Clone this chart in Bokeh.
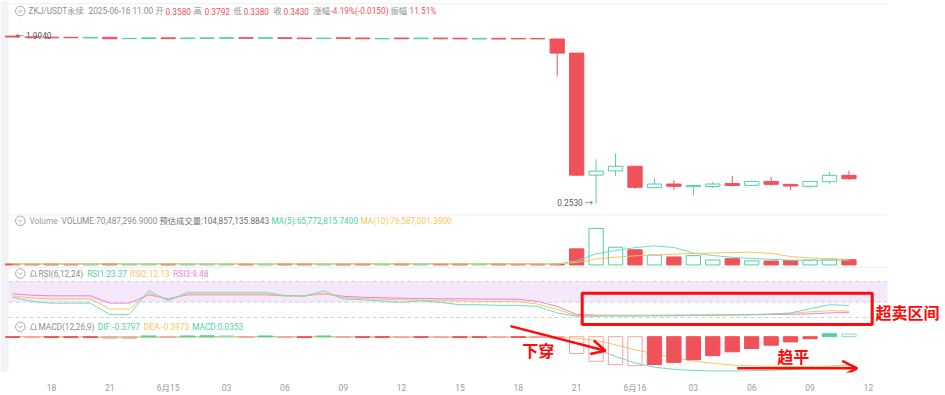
import numpy as np
import pandas as pd
from bokeh.plotting import figure
from bokeh.models import (Range1d, LinearScale, LogScale, FixedTicker, Arrow,
                          OpenHead, ColumnDataSource)
from bokeh.core.properties import value
from bokeh.embed import file_html
from bokeh.resources import INLINE

# ---------------- data ----------------
symbol = "ZKJ/USDT永续"
last_time = "2025-06-16 11:00"
est_volume = 104857135.8843

# candle index 0 = 2025-06-14 16:00, hourly
tick_idx = [2, 5, 8, 11, 14, 17, 20, 23, 26, 29, 32, 35, 38, 41, 44]
tick_labels = ["18", "21", "6月15", "03", "06", "09", "12", "15", "18", "21",
               "6月16", "03", "06", "09", "12"]

opens = [1.992, 1.972, 1.965, 1.962, 1.948, 1.962, 1.930, 1.932, 1.950, 1.930,
         1.935, 1.940, 1.954, 1.938, 1.952, 1.945, 1.930, 1.950, 1.945, 1.926,
         1.945, 1.928, 1.944, 1.940, 1.922, 1.938, 1.935, 1.935, 1.922, 1.615,
         0.3590, 0.3780, 0.4002, 0.3074, 0.3215, 0.3111, 0.3117, 0.3235, 0.3164, 0.3322,
         0.3203, 0.3126, 0.3307, 0.3580]
highs = [1.994, 1.975, 1.968, 1.964, 1.962, 1.964, 1.938, 1.952, 1.952, 1.948,
         1.952, 1.956, 1.956, 1.954, 1.954, 1.947, 1.946, 1.952, 1.947, 1.936,
         1.947, 1.946, 1.946, 1.942, 1.940, 1.940, 1.937, 1.937, 1.925, 1.620,
         0.4358, 0.4687, 0.4030, 0.3458, 0.3375, 0.3160, 0.3294, 0.3556, 0.3330, 0.3501,
         0.3215, 0.3330, 0.3720, 0.3792]
lows = [1.968, 1.958, 1.948, 1.950, 1.946, 1.925, 1.928, 1.930, 1.928, 1.928,
        1.933, 1.938, 1.936, 1.936, 1.934, 1.928, 1.928, 1.930, 1.925, 1.924,
        1.925, 1.926, 1.920, 1.922, 1.920, 1.915, 1.922, 1.922, 1.211, 0.3540,
        0.2530, 0.3550, 0.3025, 0.3063, 0.2989, 0.2788, 0.3063, 0.3117, 0.3140, 0.3160,
        0.2989, 0.3063, 0.3235, 0.3380]
closes = [1.970, 1.960, 1.950, 1.952, 1.960, 1.928, 1.936, 1.950, 1.930, 1.946,
          1.950, 1.954, 1.938, 1.952, 1.936, 1.930, 1.944, 1.932, 1.928, 1.934,
          1.928, 1.944, 1.928, 1.925, 1.938, 1.922, 1.925, 1.925, 1.615, 0.3587,
          0.3766, 0.4002, 0.3088, 0.3215, 0.3126, 0.3157, 0.3215, 0.3157, 0.3322, 0.3203,
          0.3137, 0.3322, 0.3580, 0.3430]
volumes = [14e6, 12e6, 15e6, 11e6, 13e6, 18e6, 10e6, 15e6, 16e6, 12e6,
           13e6, 11e6, 14e6, 12e6, 15e6, 16e6, 12e6, 14e6, 15e6, 11e6,
           16e6, 13e6, 14e6, 15e6, 12e6, 16e6, 11e6, 12e6, 14e6, 217e6,
           492e6, 239e6, 204e6, 133e6, 108e6, 125e6, 66e6, 84e6, 54005935.2, 52.8e6,
           60.1e6, 65.9e6, 79576781.8, 70487296.9]

rsi1 = [39.6, 31.3, 28.0, 28.0, 28.0, 5.6, 5.6, 52.6, 32.7, 49.3,
        49.3, 49.3, 49.3, 49.3, 42.9, 41.5, 52.0, 36.5, 34.6, 32.0,
        29.4, 32.7, 29.4, 24.9, 25.0, 23.6, 23.6, 21.6, 8.7, 2.3,
        2.5, 2.8, 2.7, 3.0, 3.3, 3.7, 4.1, 4.7, 5.4, 6.4,
        8.7, 17.0, 25.0, 23.37]
rsi2 = [42.3, 38.0, 36.5, 36.5, 36.5, 16.4, 16.4, 47.3, 34.6, 46.2,
        46.2, 46.2, 46.2, 46.2, 42.3, 42.3, 47.3, 39.0, 37.0, 35.5,
        34.6, 33.5, 32.7, 32.7, 31.3, 31.3, 31.3, 26.0, 15.8, 3.3,
        3.6, 3.9, 3.8, 4.0, 4.3, 4.6, 5.0, 5.4, 6.0, 6.8,
        8.0, 11.0, 13.3, 12.13]
rsi3 = [46.2, 43.5, 42.3, 42.3, 42.3, 28.0, 28.0, 44.3, 36.5, 44.3,
        44.3, 44.3, 44.3, 44.3, 42.3, 42.3, 46.2, 41.5, 39.5, 38.5,
        37.7, 36.8, 36.5, 36.5, 36.0, 36.0, 35.5, 31.3, 21.6, 6.0,
        4.5, 4.3, 4.2, 4.3, 4.4, 4.6, 4.8, 5.0, 5.3, 5.7,
        6.2, 7.0, 9.0, 9.48]

dif = [0.000, -0.001, -0.002, -0.002, -0.003, -0.008, -0.010, -0.006, -0.006, -0.003,
       -0.002, -0.001, -0.001, -0.001, -0.002, -0.002, -0.001, -0.002, -0.003, -0.003,
       -0.004, -0.004, -0.004, -0.005, -0.005, -0.005, -0.006, -0.008, -0.020, -0.084,
       -0.164, -0.268, -0.355, -0.413, -0.440, -0.456, -0.463, -0.463, -0.460, -0.455,
       -0.445, -0.427, -0.400, -0.3797]
dea = [0.000, 0.000, -0.001, -0.001, -0.002, -0.003, -0.004, -0.005, -0.005, -0.004,
       -0.004, -0.003, -0.003, -0.002, -0.002, -0.002, -0.002, -0.002, -0.002, -0.002,
       -0.003, -0.003, -0.003, -0.004, -0.004, -0.004, -0.005, -0.006, -0.008, -0.022,
       -0.050, -0.110, -0.177, -0.230, -0.287, -0.330, -0.360, -0.383, -0.395, -0.400,
       -0.402, -0.401, -0.399, -0.3973]
macd_hist = [-0.010, -0.012, -0.012, -0.012, -0.012, -0.020, -0.022, 0.010, -0.010, 0.010,
             0.012, 0.010, -0.010, 0.010, -0.012, -0.012, 0.010, -0.012, -0.012, -0.010,
             -0.012, -0.010, -0.012, -0.012, -0.010, -0.012, -0.012, -0.014, -0.016, -0.227,
             -0.333, -0.377, -0.391, -0.377, -0.347, -0.311, -0.257, -0.204, -0.160, -0.115,
             -0.071, -0.027, 0.040, 0.0353]

# ---------------- style / layout ----------------
RED = "#EF5259"
RED_LIGHT = "#F5A3A7"
TEAL = "#4FCFA6"
TEAL_LIGHT = "#86DEC4"
ORANGE = "#F9C55E"
PINK = "#EE7FD8"
GRAY = "#8E8E8E"
DARK = "#5A5A5A"
ANN = "#FF0A0A"
FONT = "Roboto, 'Noto Sans CJK SC', sans-serif"
CJK = "Noto Sans CJK SC"
HDR_SIZE = "8.3px"

W, HT, AXIS_H = 945, 395, 18
H = HT - AXIS_H
PX_PER_BAR, X0_PX = 19.45, 12.1
P_TOP_PX, P_BOT_PX = 36.0, 205.7
V_BASE_PX, VOL_PER_PX = 268.0, 13.3e6
RSI_ZERO_PX, RSI_PX = 321.2, 0.5175
MACD_ZERO_PX, MACD_PX = 340.7, 75.0
RIGHT_PX = 887

o = np.array(opens); h = np.array(highs); l = np.array(lows); c = np.array(closes)
vol = np.array(volumes); hist = np.array(macd_hist)
idx = np.arange(len(o))

lh, ll = np.log(h.max()), np.log(l.min())
kk = (lh - ll) / (P_BOT_PX - P_TOP_PX)
price_range = Range1d(np.exp(lh - (H - P_TOP_PX) * kk), np.exp(lh + P_TOP_PX * kk))
vol_range = Range1d(-(H - V_BASE_PX) * VOL_PER_PX, V_BASE_PX * VOL_PER_PX)
rsi_range = Range1d(-(H - RSI_ZERO_PX) / RSI_PX, RSI_ZERO_PX / RSI_PX)
macd_range = Range1d(-(H - MACD_ZERO_PX) / MACD_PX, MACD_ZERO_PX / MACD_PX)

p = figure(width=W, height=HT,
           x_range=Range1d(-X0_PX / PX_PER_BAR, (W - X0_PX) / PX_PER_BAR),
           y_range=Range1d(H, 0),
           output_backend="svg", toolbar_location=None, y_axis_location=None,
           min_border_left=0, min_border_right=0, min_border_top=0,
           min_border_bottom=AXIS_H)
p.extra_x_ranges = {"px": Range1d(0, W)}
p.extra_y_ranges = {"price": price_range, "vol": vol_range, "rsi": rsi_range, "macd": macd_range}
p.extra_y_scales = {"price": LogScale(), "vol": LinearScale(), "rsi": LinearScale(), "macd": LinearScale()}
p.grid.visible = False
p.outline_line_color = None
p.background_fill_color = "white"
p.border_fill_color = "white"

ax = p.xaxis[0]
ax.ticker = FixedTicker(ticks=tick_idx)
ax.major_label_overrides = {t: s for t, s in zip(tick_idx, tick_labels)}
ax.axis_line_color = None
ax.major_tick_line_color = None
ax.minor_tick_line_color = None
ax.major_label_text_font_size = "8.5px"
ax.major_label_text_color = "#9C9C9C"
ax.major_label_text_font = FONT
ax.major_label_standoff = 4

# left strip and separators
p.quad(left=[0], right=[8], top=[0], bottom=[H], fill_color="#F2F2F7", line_color=None, x_range_name="px")
p.segment(x0=[8, 8, 8], x1=[RIGHT_PX] * 3, y0=[3.3, 217.3, 270.7], y1=[3.3, 217.3, 270.7],
          line_color="#EFEFEF", line_width=1, x_range_name="px")

# ---------------- candles ----------------
up = c >= o
cline = np.where(up, TEAL, RED)
cfill = np.where(up, "white", RED)
calpha = np.where(up, 0.0, 1.0)
csrc = ColumnDataSource(dict(x=idx, high=h, low=l, top=np.maximum(o, c), bottom=np.minimum(o, c),
                             lc=cline, fc=cfill, fa=calpha, vol=vol))
p.segment(x0="x", y0="high", x1="x", y1="low", line_color="lc", line_width=1, source=csrc, y_range_name="price")
p.vbar(x="x", width=0.735, top="top", bottom="bottom", fill_color="fc", line_color="lc",
       line_width=1, source=csrc, y_range_name="price")

imax, imin = int(h.argmax()), int(l.argmin())
p.text(x=[imax], y=[h[imax]], text=[f"← {h[imax]:.4f}"], x_offset=3, text_baseline="middle",
       text_align="left", text_font=value(FONT), text_font_size=value(HDR_SIZE), text_color=DARK,
       y_range_name="price")
p.text(x=[imin], y=[l[imin]], text=[f"{l[imin]:.4f} →"], x_offset=-3, text_baseline="middle",
       text_align="right", text_font=value(FONT), text_font_size=value(HDR_SIZE), text_color=DARK,
       y_range_name="price")

# ---------------- volume ----------------
ma5 = pd.Series(vol).rolling(5, min_periods=1).mean().to_numpy()
ma10 = pd.Series(vol).rolling(10, min_periods=1).mean().to_numpy()
p.vbar(x="x", width=0.735, top="vol", bottom=0, fill_color="fc", fill_alpha="fa", line_color="lc",
       line_width=1, source=csrc, y_range_name="vol")
p.line(idx, ma5, line_color="#6FDCC2", line_width=1, y_range_name="vol")
p.line(idx, ma10, line_color=ORANGE, line_width=1, y_range_name="vol")

# ---------------- RSI ----------------
p.quad(left=[8], right=[RIGHT_PX], bottom=[30], top=[70], fill_color="#F5E8FC", line_color=None,
       x_range_name="px", y_range_name="rsi")
p.segment(x0=[8] * 3, x1=[RIGHT_PX] * 3, y0=[70, 30, 0], y1=[70, 30, 0], line_color="#CFCFCF",
          line_dash="4 3", line_width=1, x_range_name="px", y_range_name="rsi")
p.line(idx, rsi3, line_color=PINK, line_width=1, y_range_name="rsi")
p.line(idx, rsi2, line_color=ORANGE, line_width=1, y_range_name="rsi")
p.line(idx, rsi1, line_color="#6FDCC2", line_width=1, y_range_name="rsi")

# ---------------- MACD ----------------
prev = np.r_[hist[0], hist[:-1]]
rising = hist >= prev
pos = hist >= 0
hfill = np.where(pos, TEAL, RED)
halpha = np.where(rising, 1.0, 0.0)
hline = np.where(pos, np.where(rising, TEAL, TEAL_LIGHT), np.where(rising, RED, RED_LIGHT))
hsrc = ColumnDataSource(dict(x=idx, top=hist, fc=hfill, fa=halpha, lc=hline))
p.line(idx, dif, line_color="#6FDCC2", line_width=1, y_range_name="macd")
p.line(idx, dea, line_color=ORANGE, line_width=1, y_range_name="macd")
p.vbar(x="x", width=0.735, top="top", bottom=0, fill_color="fc", fill_alpha="fa", line_color="lc",
       line_width=1, source=hsrc, y_range_name="macd")

# ---------------- headers ----------------
prev_c = c[-2]
chg = c[-1] - prev_c
chg_s = f"{chg / prev_c * 100:.2f}%({chg:.4f})"
amp_s = f"{(h[-1] - l[-1]) / prev_c * 100:.2f}%"

headers = [
    (10.7, [(symbol, 28, GRAY), (last_time, 88, GRAY), ("开", 155, GRAY), (f"{o[-1]:.4f}", 165, RED),
            ("高", 193, GRAY), (f"{h[-1]:.4f}", 204, RED), ("低", 233, GRAY), (f"{l[-1]:.4f}", 243, RED),
            ("收", 273, GRAY), (f"{c[-1]:.4f}", 283, RED), ("涨幅", 313, GRAY), (chg_s, 330, RED),
            ("振幅", 390, GRAY), (amp_s, 409, RED)]),
    (223.3, [("Volume", 29, "#A0A0A0"), (f"VOLUME:{vol[-1]:,.4f}", 61, GRAY),
             (f"预估成交量:{est_volume:,.4f}", 159, "#6E6E6E"),
             (f"MA(5):{ma5[-1]:,.4f}", 271, TEAL), (f"MA(10):{ma10[-1]:,.4f}", 360, ORANGE)]),
    (276.7, [("RSI(6,12,24)", 38, GRAY), (f"RSI1:{rsi1[-1]:.2f}", 86.7, TEAL),
             (f"RSI2:{rsi2[-1]:.2f}", 129.3, ORANGE), (f"RSI3:{rsi3[-1]:.2f}", 172.7, PINK)]),
    (330.7, [("MACD(12,26,9)", 38, GRAY), (f"DIF:{dif[-1]:.4f}", 97.3, TEAL),
             (f"DEA:{dea[-1]:.4f}", 143.3, ORANGE), (f"MACD:{macd_hist[-1]:.4f}", 191.7, TEAL)]),
]
for yy, segs in headers:
    src = ColumnDataSource(dict(x=[s[1] for s in segs], y=[yy] * len(segs),
                                t=[s[0] for s in segs], col=[s[2] for s in segs]))
    p.text(x="x", y="y", text="t", text_color="col", text_font=value(FONT),
           text_font_size=value(HDR_SIZE), text_baseline="middle", text_align="left",
           source=src, x_range_name="px")

# icons: circled chevrons and bells
icon_y = [10.7, 223.3, 276.7, 330.7]
p.scatter(x=[19.8] * 4, y=icon_y, marker="circle", size=9.5, fill_color=None,
          line_color="#A8A8A8", line_width=1, x_range_name="px")
p.multi_line(xs=[[17.8, 19.8, 21.8]] * 4, ys=[[y - 0.9, y + 1.1, y - 0.9] for y in icon_y],
             line_color="#A8A8A8", line_width=1, x_range_name="px")
for by in [276.7, 330.7]:
    p.line(x=[29.5, 30.8, 30.8, 31.6, 32.9, 34.2, 35.0, 35.0, 36.3, 29.5],
           y=[by + 2.6, by + 1.4, by - 1.0, by - 2.6, by - 3.2, by - 2.6, by - 1.0, by + 1.4, by + 2.6, by + 2.6],
           line_color="#A8A8A8", line_width=1, x_range_name="px")

# ---------------- hand-drawn annotations ----------------
p.quad(left=[581.7], right=[871.7], top=[296.7], bottom=[328.3], fill_color=None,
       line_color=ANN, line_width=3, x_range_name="px")
p.text(x=[875, 521.7, 776.7], y=[315.5, 354.5, 360.0], text=["超卖区间", "下穿", "趋平"],
       text_color=ANN, text_font=value(CJK), text_font_style="bold",
       text_font_size=value("16px"), text_baseline="middle", text_align="left", x_range_name="px")
p.add_layout(Arrow(end=OpenHead(size=14, line_color=ANN, line_width=2.5),
                   x_start=510, y_start=330, x_end=605, y_end=355,
                   line_color=ANN, line_width=2.5, x_range_name="px"))
p.add_layout(Arrow(end=OpenHead(size=15, line_color=ANN, line_width=2.5),
                   x_start=736.7, y_start=372.7, x_end=856.7, y_end=372.7,
                   line_color=ANN, line_width=2.5, x_range_name="px"))

open("out.html", "w").write(file_html(p, INLINE))
